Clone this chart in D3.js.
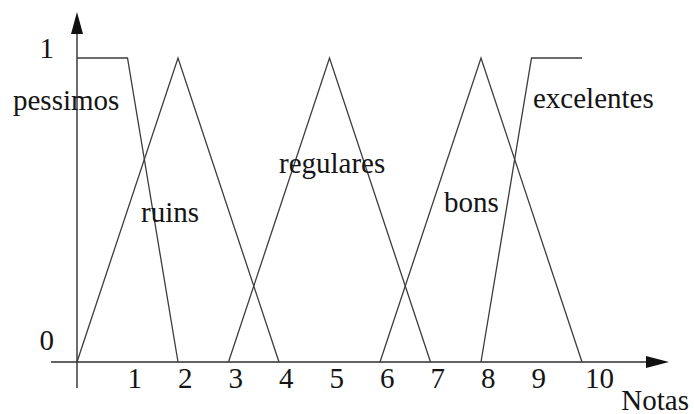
<!DOCTYPE html>
<html><head><meta charset="utf-8">
<script src="https://cdn.jsdelivr.net/npm/d3@7/dist/d3.min.js"></script></head>
<body style="margin:0">
<svg id="s" width="694" height="414" style="display:block"></svg>
<script>
// Fuzzy sets for grades (notas) on a 0–10 scale
const setNames = ["pessimos", "ruins", "regulares", "bons", "excelentes"];
const setBreaksX = [
  [0, 1, 2],
  [0, 2, 4],
  [3, 5, 7],
  [6, 8, 10],
  [8, 9, 10]
];
const setDegrees = [
  [1, 1, 0],
  [0, 1, 0],
  [0, 1, 0],
  [0, 1, 0],
  [0, 1, 1]
];
const xTickValues = [1, 2, 3, 4, 5, 6, 7, 8, 9, 10];
const yTickValues = [0, 1];
const xAxisTitle = "Notas";

const svg = d3.select("#s");
const x = d3.scaleLinear().domain([0, 10]).range([77, 582]);
const y = d3.scaleLinear().domain([0, 1]).range([362, 58]);

const fontSize = 29;
const textColor = "#141414";
const axisColor = "#2e2e2e";
const lineColor = "#3c3c3c";

function addText(tx, ty, str, anchor) {
  return svg.append("text")
    .attr("x", tx).attr("y", ty)
    .attr("font-size", fontSize)
    .attr("text-anchor", anchor || "start")
    .style("font-family", "'Times New Roman'")
    .style("fill", textColor)
    .text(str);
}

// Axes: horizontal axis with arrow, vertical axis with arrow
svg.append("line")
  .attr("x1", 51).attr("x2", x(10) + 66)
  .attr("y1", y(0)).attr("y2", y(0))
  .attr("stroke", axisColor).attr("stroke-width", 1.4);
svg.append("path")
  .attr("d", `M${x(10) + 64},${y(0) - 6} L${x(10) + 87},${y(0)} L${x(10) + 64},${y(0) + 6} Z`)
  .attr("fill", "#111");

svg.append("line")
  .attr("x1", x(0)).attr("x2", x(0))
  .attr("y1", y(0) + 26).attr("y2", 32)
  .attr("stroke", axisColor).attr("stroke-width", 1.4);
svg.append("path")
  .attr("d", `M${x(0) - 6},34 L${x(0)},12 L${x(0) + 6},34 Z`)
  .attr("fill", "#111");

// Tick labels along the horizontal axis
xTickValues.forEach(v => addText(x(v) + (v >= 10 ? 3 : 0), y(0) + 26, String(v)));

// Membership degree labels
yTickValues.forEach(v => addText(54, y(v) + (v === 0 ? -12 : 0), String(v), "end"));

// Axis title, kept inside the right edge
addText(689, 410, xAxisTitle, "end");

// Membership functions
const line = d3.line().x(d => x(d[0])).y(d => y(d[1]));
setNames.forEach((name, i) => {
  const pts = setBreaksX[i].map((v, j) => [v, setDegrees[i][j]]);
  svg.append("path")
    .attr("d", line(pts))
    .attr("fill", "none")
    .attr("stroke", lineColor)
    .attr("stroke-width", 1.3);
});

// Set names placed beside their shapes
const nameAnchors = [
  { dx: 13, dy: 110 },
  { dx: 141, dy: 222 },
  { dx: 279, dy: 173 },
  { dx: 444, dy: 212 },
  { dx: 533, dy: 108 }
];
setNames.forEach((name, i) => addText(nameAnchors[i].dx, nameAnchors[i].dy, name));
</script></body></html>
